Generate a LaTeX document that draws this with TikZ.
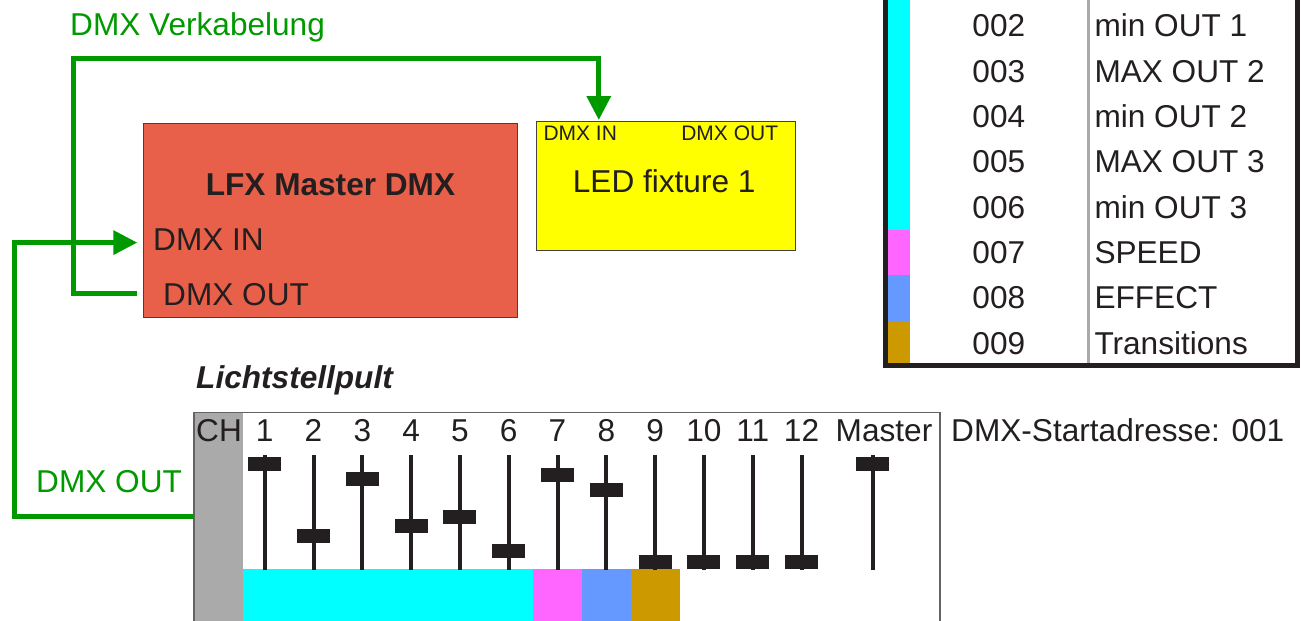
\documentclass[tikz,border=0pt]{standalone}
\usepackage{fontspec}
\setmainfont{Liberation Sans}
\usetikzlibrary{arrows.meta}
\definecolor{ink}{HTML}{231F20}
\definecolor{wiregreen}{HTML}{009900}
\definecolor{lfxred}{HTML}{E8604A}
\definecolor{ledyellow}{HTML}{FFFF00}
\definecolor{chcyan}{HTML}{00FFFF}
\definecolor{chmag}{HTML}{FF66FF}
\definecolor{chblue}{HTML}{6699FF}
\definecolor{chgold}{HTML}{CC9900}
\definecolor{chgray}{HTML}{AAAAAA}
\begin{document}
\begin{tikzpicture}[x=1pt,y=-1pt,
  txt/.style={inner sep=0pt, text=ink, font=\fontsize{31.6}{36}\selectfont},
  small/.style={inner sep=0pt, text=ink, font=\fontsize{21}{24}\selectfont},
  greentxt/.style={inner sep=0pt, text=wiregreen, font=\fontsize{31.6}{36}\selectfont},
  wire/.style={draw=wiregreen, line width=5pt},
  wirearrow/.style={wire, -{Triangle[width=23.5pt,length=24pt]}},
  box/.style={draw=ink!85, line width=1pt, inner sep=0pt, anchor=north west},
  faderline/.style={draw=ink, line width=4pt},
  knob/.style={fill=ink, inner sep=0pt, minimum width=33pt, minimum height=14pt},
]
\useasboundingbox (0,0) rectangle (1301,621);
\clip (0,0) rectangle (1301,621);
\fill[white] (0,0) rectangle (1301,621);

% ---------- title ----------
\node[greentxt, anchor=base west] (title) at (70,35) {DMX Verkabelung};

% ---------- LFX Master box ----------
\node[box, fill=lfxred, minimum width=373.7pt, minimum height=193.4pt] (lfx) at (143.3,123.3) {};
\node[txt, font=\fontsize{31.6}{36}\selectfont\bfseries, anchor=base] (lfxtitle) at (330.5,195) {LFX Master DMX};
\node[txt, anchor=base west] (lfxin) at (153,250) {DMX IN};
\node[txt, anchor=base west] (lfxout) at (163,305) {DMX OUT};

% ---------- LED fixture ----------
\node[box, fill=ledyellow, minimum width=259.3pt, minimum height=129pt] (led) at (536,121) {};
\node[txt, anchor=base] (ledname) at (664.2,192.7) {LED fixture 1};
\node[small, anchor=base west] (ledin) at (543.3,140.7) {DMX IN};
\node[small, anchor=base east] (ledout) at (778.3,140.7) {DMX OUT};

% ---------- connector points ----------
\coordinate (lfxoutpt) at (137.3,293.3);
\coordinate (ledinpt) at (598.8,120);
\coordinate (lfxinpt) at (137.3,242.6);
\coordinate (pultoutpt) at (194,516);

% ---------- fader desk ----------
\node[inner sep=0pt, anchor=north west, fill=white, minimum width=746pt, minimum height=215pt] (pult) at (194,412.3) {};
\fill[chgray] (194,412.3) rectangle (242.7,630);
\fill[chcyan] (242.7,569) rectangle (533.1,630);
\fill[chmag] (533.1,569) rectangle (581.9,630);
\fill[chblue] (581.9,569) rectangle (630.7,630);
\fill[chgold] (630.7,569) rectangle (679.5,630);
\draw[draw=ink!70, line width=1.2pt] (194,630) -- (194,412.3) -- (940,412.3) -- (940,630);

\node[txt, anchor=base west] (chlabel) at (196,441.7) {CH};
\foreach \i/\ky in {1/463.7,2/535.5,3/478.7,4/526.2,5/516.5,6/550.5,7/475,8/490,9/562.2,10/562.2,11/562.2,12/562.2}{
  \pgfmathsetmacro{\fx}{264.7+(\i-1)*48.8}
  \node[txt, anchor=base] (lab\i) at (\fx,441.7) {\i};
  \draw[faderline] (\fx,455) -- (\fx,570);
  \node[knob] (knob\i) at (\fx,\ky) {};
}
\node[txt, anchor=base] (labM) at (884,441.7) {Master};
\draw[faderline] (872.5,455) -- (872.5,570);
\node[knob] (knobM) at (872.5,463.7) {};

\node[txt, anchor=base west] (start) at (951,441.7) {DMX-Startadresse: 001};
\node[txt, font=\fontsize{31.6}{36}\selectfont\bfseries\itshape, anchor=base west] (pultname) at (196,388) {Lichtstellpult};
\node[greentxt, anchor=base west] (pultoutlabel) at (36,492) {DMX OUT};

% ---------- wires ----------
\draw[wirearrow] (lfxoutpt) -- (73.5,293.3) |- (598.8,58.8) -- (ledinpt);
\draw[wirearrow] (pultoutpt) -- (14.5,516) |- (lfxinpt);

% ---------- channel table ----------
\fill[chcyan] (887.5,-20) rectangle (910,230);
\fill[chmag] (887.5,230) rectangle (910,275);
\fill[chblue] (887.5,275) rectangle (910,321);
\fill[chgold] (887.5,321) rectangle (910,363.5);
\draw[draw=chgray, line width=2.5pt] (1088.5,-20) -- (1088.5,363.5);
\draw[draw=ink, line width=5pt] (885,-20) -- (885,365.8) -- (1297.7,365.8) -- (1297.7,-20);
\foreach \n/\lab [count=\k from 0] in {002/min OUT 1,003/MAX OUT 2,004/min OUT 2,005/MAX OUT 3,006/min OUT 3,007/SPEED,008/EFFECT,009/Transitions}{
  \pgfmathsetmacro{\ry}{36.7+\k*45.33}
  \node[txt, anchor=base] (num\n) at (998.8,\ry) {\n};
  \node[txt, anchor=base west] (name\n) at (1094.3,\ry) {\lab};
}
\end{tikzpicture}
\end{document}
